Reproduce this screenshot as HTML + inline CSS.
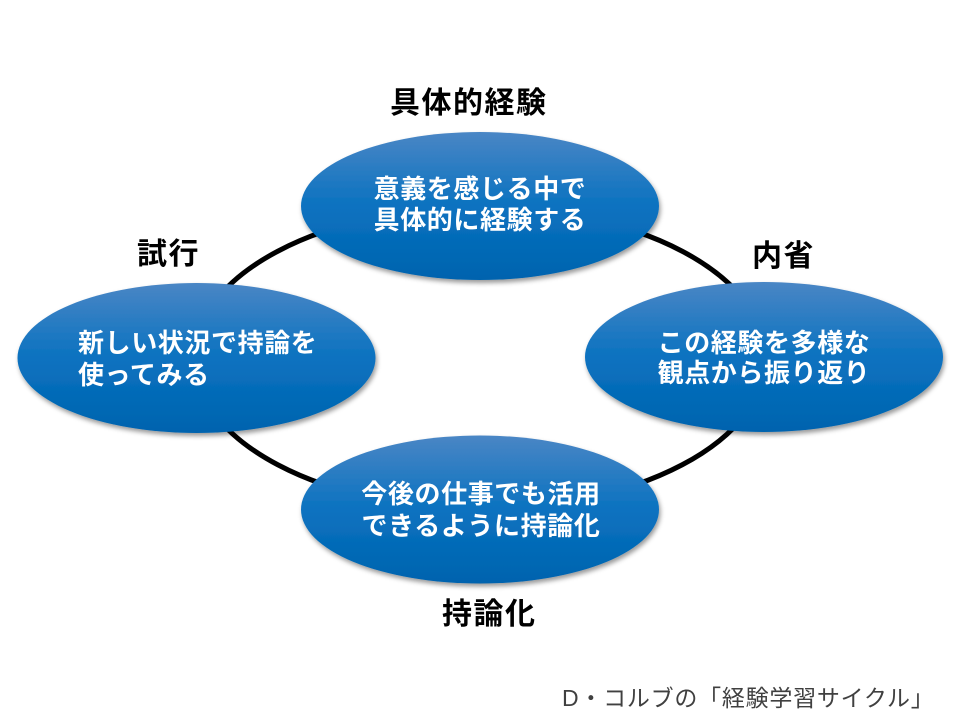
<!DOCTYPE html>
<html>
<head>
<meta charset="utf-8">
<style>
html,body{margin:0;padding:0;background:#fff;}
svg{display:block;}
.n{font-family:"Liberation Sans","Noto Sans CJK JP",sans-serif;font-weight:700;font-size:26px;fill:#fff;letter-spacing:0.6px;}
.l{font-family:"Liberation Sans","Noto Sans CJK JP",sans-serif;font-weight:700;font-size:30px;fill:#000;letter-spacing:1.5px;}
.f{font-family:"Liberation Sans","Noto Sans CJK JP",sans-serif;font-weight:400;font-size:23px;fill:#404040;letter-spacing:0.75px;}
</style>
</head>
<body>
<svg width="960" height="720" viewBox="0 0 960 720" xmlns="http://www.w3.org/2000/svg">
<defs>
<linearGradient id="g" x1="0" y1="0" x2="0" y2="1">
<stop offset="0" stop-color="#4a86c5"/>
<stop offset="0.5" stop-color="#0a72c0"/>
<stop offset="1" stop-color="#0063ae"/>
</linearGradient>
<filter id="sh" x="-10%" y="-10%" width="120%" height="130%">
<feDropShadow dx="1.5" dy="3" stdDeviation="2.5" flood-color="#000" flood-opacity="0.4"/>
</filter>
</defs>
<rect width="960" height="720" fill="#fff"/>
<ellipse cx="480" cy="358" rx="286" ry="151" fill="none" stroke="#000" stroke-width="5"/>

<ellipse cx="480" cy="206" rx="179" ry="74" fill="url(#g)" filter="url(#sh)"/>
<ellipse cx="196.5" cy="358" rx="179" ry="75" fill="url(#g)" filter="url(#sh)"/>
<ellipse cx="764" cy="357" rx="179" ry="75" fill="url(#g)" filter="url(#sh)"/>
<ellipse cx="480" cy="509.5" rx="179" ry="74" fill="url(#g)" filter="url(#sh)"/>

<text class="n" x="480" y="198" text-anchor="middle">意義を感じる中で</text>
<text class="n" x="480" y="229" text-anchor="middle">具体的に経験する</text>

<text class="n" x="78" y="352">新しい状況で持論を</text>
<text class="n" x="78" y="384">使ってみる</text>

<text class="n" x="764" y="352" text-anchor="middle">この経験を多様な</text>
<text class="n" x="764" y="382" text-anchor="middle">観点から振り返り</text>

<text class="n" x="481" y="503" text-anchor="middle">今後の仕事でも活用</text>
<text class="n" x="481" y="535" text-anchor="middle">できるように持論化</text>

<text class="l" x="390" y="113">具体的経験</text>
<text class="l" x="752" y="266">内省</text>
<text class="l" x="137" y="264">試行</text>
<text class="l" x="442" y="624">持論化</text>

<text class="f" x="562" y="706">D・コルブの「経験学習サイクル」</text>
</svg>
</body>
</html>
